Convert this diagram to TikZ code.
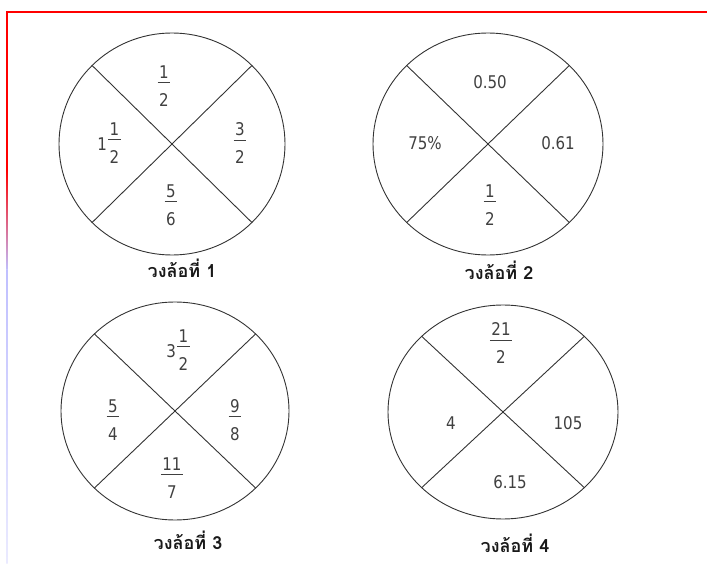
\documentclass[tikz,border=0pt]{standalone}
\usepackage{fontspec}
\setmainfont{DejaVu Sans}[FakeStretch=0.86]
\newfontfamily\thaifont[Script=Thai]{Loma}
\usepackage{tikz}

\newcommand{\fr}[2]{{\setlength{\arrayrulewidth}{0.8pt}\renewcommand{\arraystretch}{0}%
  \begin{tabular}[c]{@{\hspace{1.5pt}}c@{\hspace{1.5pt}}}\rule[-4pt]{0pt}{12.8pt}#1\\\hline\rule{0pt}{23pt}#2\end{tabular}}}
\newcommand{\whole}[1]{\raisebox{-3pt}{#1}\hspace{1pt}}

\begin{document}
\begin{tikzpicture}[x=1pt,y=-1pt,
    wheel/.style={line width=0.9pt,draw=black!80},
    num/.style={font=\fontsize{17.5}{21}\selectfont,text=black!75,inner sep=0pt},
    title/.style={font=\thaifont\bfseries\fontsize{18}{21}\selectfont,text=black!90,inner sep=0pt}]
            \useasboundingbox (0,0) rectangle (707,564);
            % frame
            \draw[red,line width=1.3pt] (6.3,12) -- (707,12);
            \fill[red] (6.3,12) rectangle (7.7,170);
            \shade[top color=red,bottom color=blue!25!white] (6.3,170) rectangle (7.7,270);
            \shade[top color=blue!25!white,bottom color=blue!8!white] (6.3,270) rectangle (7.7,564);
            % wheels
            \foreach \n/\cx/\cy/\rx/\ry in {1/172/144/113/111, 2/488/144/115/111,
                                            3/175/411/114/109, 4/503/412/115/107}{
              \coordinate (w\n) at (\cx,\cy);
              \draw[wheel] (w\n) ellipse [x radius=\rx,y radius=\ry];
              \draw[wheel] (w\n) +(135:{\rx} and {\ry}) -- +(-45:{\rx} and {\ry})
                                 +(45:{\rx} and {\ry}) -- +(-135:{\rx} and {\ry});
            }
            % wheel 1
            \draw (164,86) node[num] (w1n) {\fr{1}{2}};
            \draw (240,143) node[num] (w1e) {\fr{3}{2}};
            \draw (171,205) node[num] (w1s) {\fr{5}{6}};
            \draw (109,143) node[num] (w1w) {\whole{1}\fr{1}{2}};
            \draw (182,268) node[title] (t1) {วงล้อที่ 1};
            % wheel 2
            \draw (490,82) node[num] (w2n) {0.50};
            \draw (558,143) node[num] (w2e) {0.61};
            \draw (490,205) node[num] (w2s) {\fr{1}{2}};
            \draw (425,143) node[num] (w2w) {75\%};
            \draw (499,270) node[title] (t2) {วงล้อที่ 2};
            % wheel 3
            \draw (178,350) node[num] (w3n) {\whole{3}\fr{1}{2}};
            \draw (235,420) node[num] (w3e) {\fr{9}{8}};
            \draw (172,478) node[num] (w3s) {\fr{11}{7}};
            \draw (113,420) node[num] (w3w) {\fr{5}{4}};
            \draw (188,540) node[title] (t3) {วงล้อที่ 3};
            % wheel 4
            \draw (501,343) node[num] (w4n) {\fr{21}{2}};
            \draw (568,423) node[num] (w4e) {105};
            \draw (510,482) node[num] (w4s) {6.15};
            \draw (451,423) node[num] (w4w) {4};
            \draw (515,543) node[title] (t4) {วงล้อที่ 4};
\end{tikzpicture}
\end{document}
